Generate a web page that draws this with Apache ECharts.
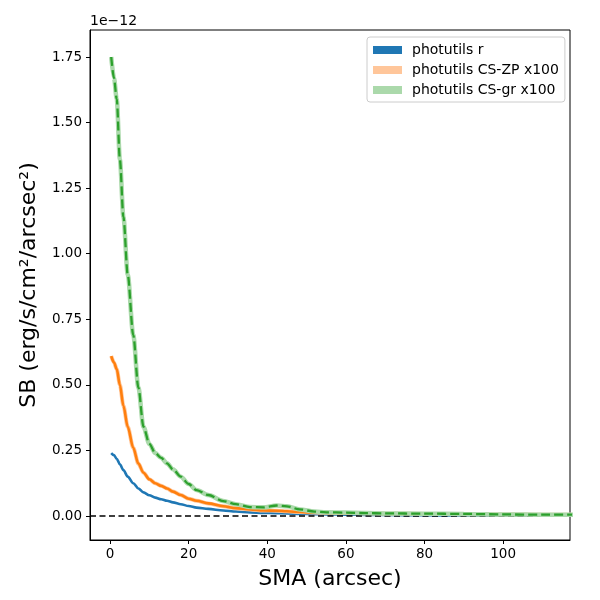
<!DOCTYPE html>
<html>
<head>
<meta charset="utf-8">
<script src="https://cdn.jsdelivr.net/npm/echarts@6/dist/echarts.min.js"></script>
<style>html,body{margin:0;padding:0;background:#fff}#c{width:600px;height:600px}</style>
</head>
<body>
<div id="c"></div>
<script>
// SMA (arcsec)
const sma = [0.3, 1, 1.7, 2.5, 3.4, 4.5, 5.9, 7.2, 8.5, 10, 11.5, 13, 14.5, 16, 18, 20, 22, 25, 28.8, 32, 35.6, 39, 42.4, 45, 48.3, 52, 55, 60, 65, 70, 80, 90, 100, 110, 120];
// Surface brightness, in units of 1e-12
const sbR = [0.24, 0.232, 0.218, 0.197, 0.175, 0.150, 0.125, 0.105, 0.090, 0.079, 0.070, 0.064, 0.058, 0.052, 0.045, 0.038, 0.032, 0.027, 0.021, 0.017, 0.014, 0.012, 0.011, 0.010, 0.008, 0.007, 0.006, 0.005, 0.004, 0.004, 0.003, 0.002, 0.002, 0.001, 0.001];
const sbZP = [0.61, 0.585, 0.56, 0.50, 0.42, 0.34, 0.26, 0.20, 0.165, 0.14, 0.125, 0.115, 0.105, 0.093, 0.080, 0.066, 0.058, 0.048, 0.037, 0.030, 0.025, 0.021, 0.020, 0.018, 0.015, 0.013, 0.012, 0.011, 0.010, 0.009, 0.008, 0.007, 0.006, 0.005, 0.005];
const sbGR = [1.75, 1.67, 1.59, 1.36, 1.14, 0.92, 0.69, 0.49, 0.34, 0.275, 0.24, 0.222, 0.201, 0.178, 0.150, 0.122, 0.099, 0.080, 0.057, 0.045, 0.034, 0.033, 0.040, 0.037, 0.025, 0.017, 0.014, 0.013, 0.011, 0.010, 0.009, 0.008, 0.006, 0.005, 0.005];
const xTicks = [0, 20, 40, 60, 80, 100];
const yTicks = [0, 0.25, 0.5, 0.75, 1.0, 1.25, 1.5, 1.75];
const names = ['photutils r', 'photutils CS-ZP x100', 'photutils CS-gr x100'];

const pairs = a => sma.map((x, i) => [x, a[i]]);
const font = 'DejaVu Sans';
const chart = echarts.init(document.getElementById('c'));
chart.setOption({
  animation: false,
  textStyle: {fontFamily: font},
  grid: {left: 90, right: 30, top: 30, bottom: 60, show: true, borderColor: '#000', borderWidth: 1, backgroundColor: 'transparent'},
  xAxis: {
    type: 'value', min: -5.1, max: 117,
    splitLine: {show: false},
    axisLine: {show: true, onZero: false, lineStyle: {color: '#000', width: 1}},
    axisTick: {show: true, length: 4, lineStyle: {color: '#000'}, customValues: xTicks},
    axisLabel: {color: '#000', fontSize: 13.5, fontFamily: font, margin: 7, customValues: xTicks},
    name: 'SMA (arcsec)', nameLocation: 'middle', nameGap: 28,
    nameTextStyle: {fontSize: 22, color: '#000', fontFamily: font}
  },
  yAxis: {
    type: 'value', min: -0.0915, max: 1.853,
    splitLine: {show: false},
    axisLine: {show: true, onZero: false, lineStyle: {color: '#000', width: 1}},
    axisTick: {show: true, length: 4, lineStyle: {color: '#000'}, customValues: yTicks},
    axisLabel: {color: '#000', fontSize: 13.5, fontFamily: font, margin: 8, customValues: yTicks, formatter: v => v.toFixed(2)},
    name: 'SB (erg/s/cm²/arcsec²)', nameLocation: 'middle', nameGap: 50,
    nameTextStyle: {fontSize: 22, color: '#000', fontFamily: font}
  },
  legend: {
    orient: 'vertical', left: 367, top: 37,
    backgroundColor: '#fff', borderColor: '#ccc', borderWidth: 1, borderRadius: 3,
    padding: [6, 6, 5, 6], itemGap: 6, itemWidth: 29, itemHeight: 8,
    selectedMode: false,
    textStyle: {fontSize: 14, lineHeight: 14, color: '#000', fontFamily: font, padding: [0, 0, 0, 5]},
    data: [
      {name: names[0], icon: 'rect', itemStyle: {color: '#1f77b4', borderWidth: 0}},
      {name: names[1], icon: 'rect', itemStyle: {color: '#ffc69a', borderWidth: 0}},
      {name: names[2], icon: 'rect', itemStyle: {color: '#abd9ab', borderWidth: 0}}
    ]
  },
  graphic: [{type: 'text', left: 90, top: 14, style: {text: '1e\u221212', fontSize: 14, fontFamily: font, fill: '#000'}}],
  series: [
    {name: names[0], type: 'line', data: pairs(sbR), showSymbol: false, smooth: 0.3, smoothMonotone: 'x',
     lineStyle: {color: '#1f77b4', width: 2.6}, itemStyle: {color: '#1f77b4'}, z: 2},
    {name: names[1], type: 'line', data: pairs(sbZP), showSymbol: false, smooth: 0.3, smoothMonotone: 'x',
     lineStyle: {color: '#ffc69a', width: 4}, itemStyle: {color: '#ffc69a'}, z: 3},
    {name: 'zp-line', type: 'line', data: pairs(sbZP), showSymbol: false, smooth: 0.3, smoothMonotone: 'x',
     lineStyle: {color: '#ff7f0e', width: 2.6}, itemStyle: {color: '#ff7f0e'}, z: 4},
    {name: names[2], type: 'line', data: pairs(sbGR), showSymbol: false, smooth: 0.3, smoothMonotone: 'x',
     lineStyle: {color: '#abd9ab', width: 4.5}, itemStyle: {color: '#abd9ab'}, z: 5},
    {name: 'gr-line', type: 'line', data: pairs(sbGR), showSymbol: false, smooth: 0.3, smoothMonotone: 'x',
     lineStyle: {color: '#2ca02c', width: 2.3, type: [9, 4]}, itemStyle: {color: '#2ca02c'}, z: 6,
     markLine: {silent: true, symbol: ['none', 'none'], label: {show: false},
       lineStyle: {color: '#000', width: 1.5, type: [6, 3.5]},
       data: [{yAxis: 0}]}}
  ]
});
</script>
</body>
</html>
